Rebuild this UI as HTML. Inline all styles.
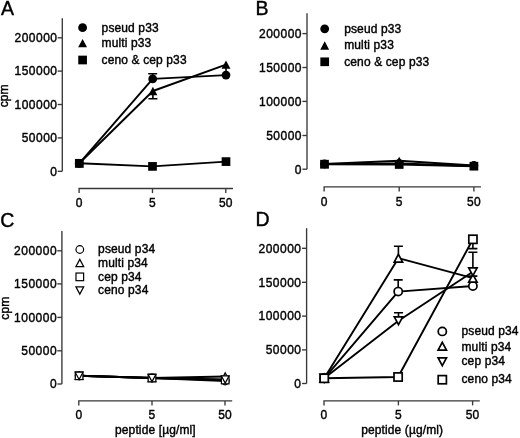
<!DOCTYPE html><html><head><meta charset="utf-8"><style>html,body{margin:0;padding:0;background:#fff;}svg{display:block;filter:grayscale(1);}text{font-family:"Liberation Sans",sans-serif;font-size:12px;fill:#000;stroke:#000;stroke-width:0.4px;letter-spacing:0.12px;}</style></head><body>
<svg width="520" height="438" viewBox="0 0 520 438">
<rect width="520" height="438" fill="#fff"/>
<path d="M62.3 18.2V171.3" stroke="#383838" stroke-width="1.35" fill="none"/>
<path d="M57.7 171.3H62.3" stroke="#383838" stroke-width="1.35"/>
<text x="57.5" y="175.6" text-anchor="end" style="letter-spacing:0.5px">0</text>
<path d="M57.7 137.9H62.3" stroke="#383838" stroke-width="1.35"/>
<text x="57.5" y="142.2" text-anchor="end" style="letter-spacing:0.5px">50000</text>
<path d="M57.7 104.5H62.3" stroke="#383838" stroke-width="1.35"/>
<text x="57.5" y="108.8" text-anchor="end" style="letter-spacing:0.5px">100000</text>
<path d="M57.7 71.1H62.3" stroke="#383838" stroke-width="1.35"/>
<text x="57.5" y="75.4" text-anchor="end" style="letter-spacing:0.5px">150000</text>
<path d="M57.7 37.8H62.3" stroke="#383838" stroke-width="1.35"/>
<text x="57.5" y="42.1" text-anchor="end" style="letter-spacing:0.5px">200000</text>
<path d="M79.1 193.1V188.5H233" stroke="#383838" stroke-width="1.35" fill="none"/>
<path d="M152.5 188.5V193.1" stroke="#383838" stroke-width="1.35"/>
<path d="M225.8 188.5V193.1" stroke="#383838" stroke-width="1.35"/>
<text x="79.1" y="206.8" text-anchor="middle">0</text>
<text x="152.5" y="206.8" text-anchor="middle">5</text>
<text x="225.8" y="206.8" text-anchor="middle">50</text>
<text x="1" y="15.3" style="font-size:19.5px">A</text>
<text transform="translate(8.2,95.8) rotate(-90)" text-anchor="middle">cpm</text>
<path d="M79.3 163.3L152.7 78.9L226 75.1" stroke="#000" stroke-width="1.9" fill="none" stroke-linejoin="round"/>
<path d="M79.3 163.3L152.9 91L226 64.6" stroke="#000" stroke-width="1.9" fill="none" stroke-linejoin="round"/>
<path d="M79.3 163.3L152.5 166.4L226 161.6" stroke="#000" stroke-width="1.9" fill="none" stroke-linejoin="round"/>
<path d="M152.7 78.9V73.7M148.2 73.7H157.2" stroke="#000" stroke-width="1.6" fill="none"/>
<path d="M152.9 91V98.7M148.4 98.7H157.4" stroke="#000" stroke-width="1.6" fill="none"/>
<path d="M226 64.6V72" stroke="#000" stroke-width="1.6"/>
<circle cx="79.3" cy="163.3" r="4.4" fill="#000"/>
<path d="M79.3 159.15L83.75 167.45H74.85Z" fill="#000"/>
<rect x="74.95" y="158.95" width="8.7" height="8.7" fill="#000"/>
<circle cx="152.7" cy="78.9" r="4.4" fill="#000"/>
<path d="M152.9 86.85L157.35 95.15H148.45Z" fill="#000"/>
<rect x="148.15" y="162.05" width="8.7" height="8.7" fill="#000"/>
<circle cx="226" cy="75.1" r="4.4" fill="#000"/>
<path d="M226 60.45L230.45 68.75H221.55Z" fill="#000"/>
<rect x="221.65" y="157.25" width="8.7" height="8.7" fill="#000"/>
<circle cx="82.6" cy="27.7" r="4.4" fill="#000"/>
<text x="101.6" y="32.2">pseud p33</text>
<path d="M82.6 39.05L87.05 47.35H78.15Z" fill="#000"/>
<text x="101.6" y="46.6">multi p33</text>
<rect x="78.25" y="55.65" width="8.7" height="8.7" fill="#000"/>
<text x="101.6" y="63.5">ceno &amp; cep p33</text>
<path d="M307 13.2V169.2" stroke="#383838" stroke-width="1.35" fill="none"/>
<path d="M302.4 169.2H307" stroke="#383838" stroke-width="1.35"/>
<text x="302" y="173.5" text-anchor="end" style="letter-spacing:0.5px">0</text>
<path d="M302.4 135.5H307" stroke="#383838" stroke-width="1.35"/>
<text x="302" y="139.8" text-anchor="end" style="letter-spacing:0.5px">50000</text>
<path d="M302.4 101.4H307" stroke="#383838" stroke-width="1.35"/>
<text x="302" y="105.7" text-anchor="end" style="letter-spacing:0.5px">100000</text>
<path d="M302.4 67.5H307" stroke="#383838" stroke-width="1.35"/>
<text x="302" y="71.8" text-anchor="end" style="letter-spacing:0.5px">150000</text>
<path d="M302.4 33.6H307" stroke="#383838" stroke-width="1.35"/>
<text x="302" y="37.9" text-anchor="end" style="letter-spacing:0.5px">200000</text>
<path d="M324.1 191.5V186.9H481" stroke="#383838" stroke-width="1.35" fill="none"/>
<path d="M399.2 186.9V191.5" stroke="#383838" stroke-width="1.35"/>
<path d="M473.9 186.9V191.5" stroke="#383838" stroke-width="1.35"/>
<text x="324.1" y="205.6" text-anchor="middle">0</text>
<text x="399.2" y="205.6" text-anchor="middle">5</text>
<text x="473.9" y="205.6" text-anchor="middle">50</text>
<text x="255.6" y="15.3" style="font-size:19.5px">B</text>
<path d="M324.5 164L399.2 163.5L473.9 166" stroke="#000" stroke-width="1.9" fill="none" stroke-linejoin="round"/>
<path d="M324.5 164L399.2 160.8L473.9 165.5" stroke="#000" stroke-width="1.9" fill="none" stroke-linejoin="round"/>
<path d="M324.5 164.2L399.2 164.5L473.9 166.2" stroke="#000" stroke-width="1.9" fill="none" stroke-linejoin="round"/>
<circle cx="324.5" cy="164" r="4.4" fill="#000"/>
<path d="M324.5 159.85L328.95 168.15H320.05Z" fill="#000"/>
<rect x="320.15" y="159.85" width="8.7" height="8.7" fill="#000"/>
<circle cx="399.2" cy="163.5" r="4.4" fill="#000"/>
<path d="M399.2 156.65L403.65 164.95H394.75Z" fill="#000"/>
<rect x="394.85" y="160.15" width="8.7" height="8.7" fill="#000"/>
<circle cx="473.9" cy="165.5" r="4.4" fill="#000"/>
<path d="M473.9 161.35L478.35 169.65H469.45Z" fill="#000"/>
<rect x="469.55" y="161.85" width="8.7" height="8.7" fill="#000"/>
<circle cx="324.7" cy="28.8" r="4.4" fill="#000"/>
<text x="344.2" y="33.1">pseud p33</text>
<path d="M324.7 41.35L329.15 49.65H320.25Z" fill="#000"/>
<text x="344.2" y="49">multi p33</text>
<rect x="320.35" y="57.45" width="8.7" height="8.7" fill="#000"/>
<text x="344.2" y="66.3">ceno &amp; cep p33</text>
<path d="M61.9 231.1V384" stroke="#383838" stroke-width="1.35" fill="none"/>
<path d="M57.3 384H61.9" stroke="#383838" stroke-width="1.35"/>
<text x="57.1" y="388.3" text-anchor="end" style="letter-spacing:0.5px">0</text>
<path d="M57.3 350.8H61.9" stroke="#383838" stroke-width="1.35"/>
<text x="57.1" y="355.1" text-anchor="end" style="letter-spacing:0.5px">50000</text>
<path d="M57.3 317.4H61.9" stroke="#383838" stroke-width="1.35"/>
<text x="57.1" y="321.7" text-anchor="end" style="letter-spacing:0.5px">100000</text>
<path d="M57.3 283.9H61.9" stroke="#383838" stroke-width="1.35"/>
<text x="57.1" y="288.2" text-anchor="end" style="letter-spacing:0.5px">150000</text>
<path d="M57.3 250.8H61.9" stroke="#383838" stroke-width="1.35"/>
<text x="57.1" y="255.1" text-anchor="end" style="letter-spacing:0.5px">200000</text>
<path d="M78.8 405.5V400.9H232.2" stroke="#383838" stroke-width="1.35" fill="none"/>
<path d="M152 400.9V405.5" stroke="#383838" stroke-width="1.35"/>
<path d="M225 400.9V405.5" stroke="#383838" stroke-width="1.35"/>
<text x="78.8" y="419" text-anchor="middle">0</text>
<text x="152" y="419" text-anchor="middle">5</text>
<text x="225" y="419" text-anchor="middle">50</text>
<text x="0.2" y="226.9" style="font-size:19.5px">C</text>
<text transform="translate(8.8,308.2) rotate(-90)" text-anchor="middle">cpm</text>
<text x="155.4" y="434" text-anchor="middle">peptide [µg/ml]</text>
<path d="M79.1 375.8L152 378L225.2 381" stroke="#000" stroke-width="1.9" fill="none" stroke-linejoin="round"/>
<path d="M79.1 375.8L152 378L225.2 376.5" stroke="#000" stroke-width="1.9" fill="none" stroke-linejoin="round"/>
<path d="M79.1 375.8L152 378L225.2 380" stroke="#000" stroke-width="1.9" fill="none" stroke-linejoin="round"/>
<path d="M79.1 375.8L152 378L225.2 379.5" stroke="#000" stroke-width="1.9" fill="none" stroke-linejoin="round"/>
<circle cx="79.1" cy="375.8" r="3.81" fill="#fff" stroke="#000" stroke-width="1.2"/>
<path d="M79.1 372.17L83.01 379.43H75.19Z" fill="#fff" stroke="#000" stroke-width="1.2"/>
<rect x="75.29" y="371.99" width="7.63" height="7.63" fill="#fff" stroke="#000" stroke-width="1.2"/>
<path d="M79.1 379.43L83.01 372.17H75.19Z" fill="#fff" stroke="#000" stroke-width="1.2"/>
<circle cx="152" cy="378" r="3.81" fill="#fff" stroke="#000" stroke-width="1.2"/>
<path d="M152 374.37L155.91 381.63H148.09Z" fill="#fff" stroke="#000" stroke-width="1.2"/>
<rect x="148.19" y="374.19" width="7.63" height="7.63" fill="#fff" stroke="#000" stroke-width="1.2"/>
<path d="M152 381.63L155.91 374.37H148.09Z" fill="#fff" stroke="#000" stroke-width="1.2"/>
<circle cx="225.2" cy="381" r="3.81" fill="#fff" stroke="#000" stroke-width="1.2"/>
<path d="M225.2 372.87L229.11 380.13H221.29Z" fill="#fff" stroke="#000" stroke-width="1.2"/>
<rect x="221.39" y="376.19" width="7.63" height="7.63" fill="#fff" stroke="#000" stroke-width="1.2"/>
<path d="M225.2 383.13L229.11 375.87H221.29Z" fill="#fff" stroke="#000" stroke-width="1.2"/>
<circle cx="79.8" cy="249.5" r="3.81" fill="#fff" stroke="#000" stroke-width="1.2"/>
<text x="98.1" y="253">pseud p34</text>
<path d="M79.8 259.37L83.71 266.63H75.89Z" fill="#fff" stroke="#000" stroke-width="1.2"/>
<text x="98.1" y="266.7">multi p34</text>
<rect x="75.99" y="273.04" width="7.63" height="7.63" fill="#fff" stroke="#000" stroke-width="1.2"/>
<text x="98.1" y="280.8">cep p34</text>
<path d="M79.8 294.13L83.71 286.87H75.89Z" fill="#fff" stroke="#000" stroke-width="1.2"/>
<text x="98.1" y="294.1">ceno p34</text>
<path d="M306.6 228.2V383.5" stroke="#383838" stroke-width="1.35" fill="none"/>
<path d="M302 383.5H306.6" stroke="#383838" stroke-width="1.35"/>
<text x="301.5" y="387.8" text-anchor="end" style="letter-spacing:0.5px">0</text>
<path d="M302 349.9H306.6" stroke="#383838" stroke-width="1.35"/>
<text x="301.5" y="354.2" text-anchor="end" style="letter-spacing:0.5px">50000</text>
<path d="M302 316.1H306.6" stroke="#383838" stroke-width="1.35"/>
<text x="301.5" y="320.4" text-anchor="end" style="letter-spacing:0.5px">100000</text>
<path d="M302 282.3H306.6" stroke="#383838" stroke-width="1.35"/>
<text x="301.5" y="286.6" text-anchor="end" style="letter-spacing:0.5px">150000</text>
<path d="M302 248.3H306.6" stroke="#383838" stroke-width="1.35"/>
<text x="301.5" y="252.6" text-anchor="end" style="letter-spacing:0.5px">200000</text>
<path d="M324 405.4V400.8H479.8" stroke="#383838" stroke-width="1.35" fill="none"/>
<path d="M398.4 400.8V405.4" stroke="#383838" stroke-width="1.35"/>
<path d="M472.6 400.8V405.4" stroke="#383838" stroke-width="1.35"/>
<text x="324" y="419" text-anchor="middle">0</text>
<text x="398.4" y="419" text-anchor="middle">5</text>
<text x="472.6" y="419" text-anchor="middle">50</text>
<text x="255.6" y="226.3" style="font-size:19.5px">D</text>
<text x="402.2" y="434" text-anchor="middle">peptide (µg/ml)</text>
<path d="M324.2 378.3L398.2 291.6L472.9 286" stroke="#000" stroke-width="1.9" fill="none" stroke-linejoin="round"/>
<path d="M324.2 378.3L398.4 258.2L472.9 278.2" stroke="#000" stroke-width="1.9" fill="none" stroke-linejoin="round"/>
<path d="M324.2 378.3L398.5 320.8L472.9 271.8" stroke="#000" stroke-width="1.9" fill="none" stroke-linejoin="round"/>
<path d="M324.2 378.3L398.1 377L472.9 239.3" stroke="#000" stroke-width="1.9" fill="none" stroke-linejoin="round"/>
<path d="M398.4 258.2V246.2M393.9 246.2H402.9" stroke="#000" stroke-width="1.6" fill="none"/>
<path d="M398.2 291.6V279.9M393.7 279.9H402.7" stroke="#000" stroke-width="1.6" fill="none"/>
<path d="M398.5 320.8V312.8M394 312.8H403" stroke="#000" stroke-width="1.6" fill="none"/>
<path d="M472.9 239.3V248.6M468.4 248.6H477.4" stroke="#000" stroke-width="1.6" fill="none"/>
<path d="M472.9 271.8V252.3M468.4 252.3H477.4" stroke="#000" stroke-width="1.6" fill="none"/>
<path d="M472.9 278.2V276.1M468.4 276.1H477.4" stroke="#000" stroke-width="1.6" fill="none"/>
<circle cx="324.2" cy="378.3" r="4.1" fill="#fff" stroke="#000" stroke-width="1.7"/>
<path d="M324.2 374.4L328.4 382.2H320Z" fill="#fff" stroke="#000" stroke-width="1.7"/>
<path d="M324.2 382.2L328.4 374.4H320Z" fill="#fff" stroke="#000" stroke-width="1.7"/>
<rect x="320.1" y="374.2" width="8.2" height="8.2" fill="#fff" stroke="#000" stroke-width="1.7"/>
<circle cx="398.2" cy="291.6" r="4.1" fill="#fff" stroke="#000" stroke-width="1.7"/>
<path d="M398.4 254.3L402.6 262.1H394.2Z" fill="#fff" stroke="#000" stroke-width="1.7"/>
<path d="M398.5 324.7L402.7 316.9H394.3Z" fill="#fff" stroke="#000" stroke-width="1.7"/>
<rect x="394" y="372.9" width="8.2" height="8.2" fill="#fff" stroke="#000" stroke-width="1.7"/>
<circle cx="472.9" cy="286" r="4.1" fill="#fff" stroke="#000" stroke-width="1.7"/>
<path d="M472.9 274.3L477.1 282.1H468.7Z" fill="#fff" stroke="#000" stroke-width="1.7"/>
<path d="M472.9 275.7L477.1 267.9H468.7Z" fill="#fff" stroke="#000" stroke-width="1.7"/>
<rect x="468.8" y="235.2" width="8.2" height="8.2" fill="#fff" stroke="#000" stroke-width="1.7"/>
<circle cx="442.3" cy="331.4" r="4.1" fill="#fff" stroke="#000" stroke-width="1.7"/>
<text x="461.5" y="335.3">pseud p34</text>
<path d="M442.3 342.3L446.5 350.1H438.1Z" fill="#fff" stroke="#000" stroke-width="1.7"/>
<text x="461.5" y="350.5">multi p34</text>
<path d="M442.3 365.7L446.5 357.9H438.1Z" fill="#fff" stroke="#000" stroke-width="1.7"/>
<text x="461.5" y="365.2">cep p34</text>
<rect x="438.2" y="375.6" width="8.2" height="8.2" fill="#fff" stroke="#000" stroke-width="1.7"/>
<text x="461.5" y="382.8">ceno p34</text>
</svg></body></html>
